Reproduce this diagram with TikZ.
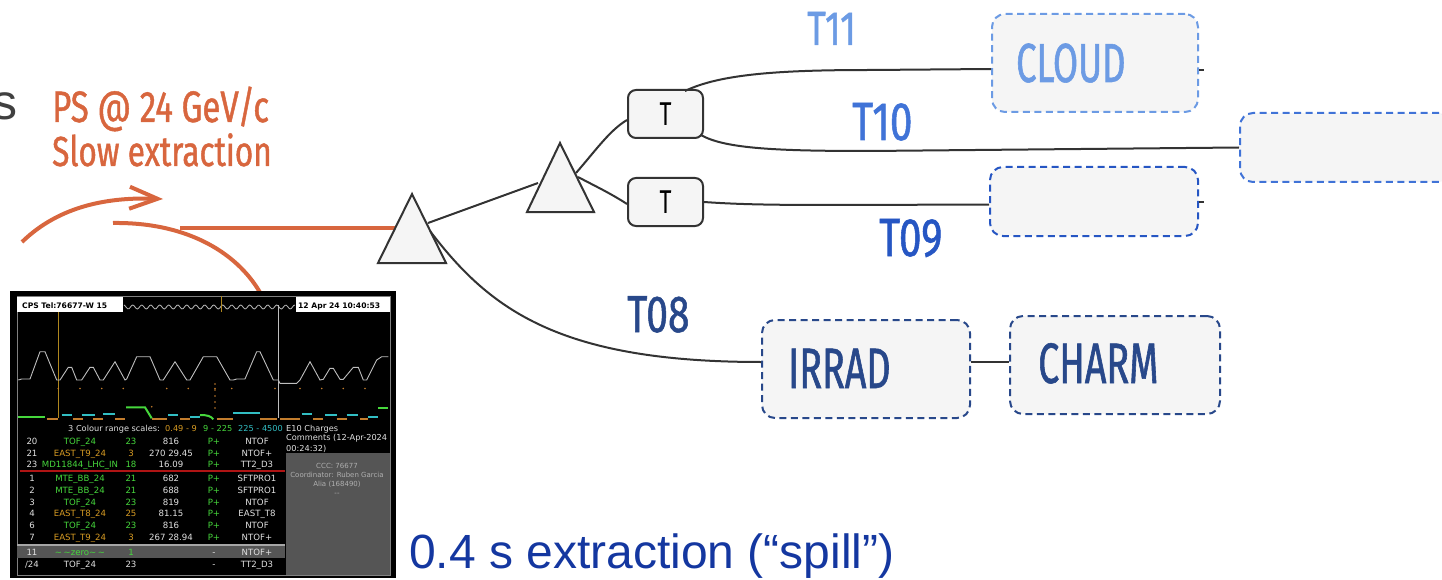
\documentclass[tikz,border=0pt]{standalone}
\usepackage{fontspec}
\setmainfont{Liberation Sans}
\newfontfamily\osw[FakeStretch=0.66,FakeBold=1.0]{Fira Sans}
\newfontfamily\oswt[FakeStretch=0.75,FakeBold=1.0]{Fira Sans}
\newfontfamily\oswl[FakeStretch=0.7]{Fira Sans}
\newfontfamily\scr{DejaVu Sans}
\usetikzlibrary{arrows.meta}
\definecolor{psorange}{RGB}{216,102,62}
\definecolor{darkline}{RGB}{51,51,51}
\definecolor{boxfill}{RGB}{245,245,245}
\definecolor{lightblue}{RGB}{108,155,228}
\definecolor{midblue}{RGB}{64,115,215}
\definecolor{blueT}{RGB}{38,86,195}
\definecolor{navy}{RGB}{40,72,138}
\definecolor{spillblue}{RGB}{20,55,160}
\definecolor{sgray}{RGB}{64,64,64}
\definecolor{scrgreen}{RGB}{70,215,60}
\definecolor{scrgold}{RGB}{215,155,35}
\definecolor{scrcyan}{RGB}{50,190,195}
\definecolor{scrwhite}{RGB}{225,225,225}
\definecolor{scrorange}{RGB}{195,125,45}
\definecolor{vgold}{RGB}{175,135,30}
\definecolor{wavegray}{RGB}{190,190,190}
\definecolor{panelgray}{RGB}{85,85,85}
\definecolor{paneltxt}{RGB}{175,175,175}
\definecolor{redline}{RGB}{175,20,20}
\newcommand\screenrow[9]{%
  \node[scrtxt,text=scrwhite] (n#1) at (32,#2) {#3};
  \node[scrtxt,text=#5] (m#1) at (80,#2) {#4};
  \node[scrtxt,text=#5] (c#1) at (131,#2) {#6};
  \node[scrtxt,text=scrwhite] (v#1) at (171,#2) {#7};
  \node[scrtxt,text=scrgreen] (p#1) at (214,#2) {#8};
  \node[scrtxt,text=scrwhite] (d#1) at (257,#2) {#9};}
\begin{document}
\begin{tikzpicture}[x=1pt,y=-1pt,
  conn/.style={draw=darkline,line width=2pt},
  tri/.style={draw=darkline,fill=boxfill,line width=2pt,line join=miter},
  tbox/.style={draw=darkline,fill=boxfill,line width=2pt,rounded corners=8pt,
    minimum width=75pt,minimum height=48pt,inner sep=0pt,
    font=\oswl\fontsize{33}{33}\selectfont},
  dbox/.style={fill=boxfill,line width=2pt,dash pattern=on 7pt off 4.5pt,
    rounded corners=13pt,inner sep=0pt},
  lbl/.style={anchor=base west,inner sep=0pt},
  orangeline/.style={draw=psorange,line width=4pt},
  scrtxt/.style={anchor=base,inner sep=0pt,font=\scr\fontsize{8.6}{10}\selectfont},
  smalltxt/.style={anchor=base west,inner sep=0pt,font=\scr\fontsize{8.2}{10}\selectfont},
  paneltext/.style={anchor=base,inner sep=0pt,text=paneltxt,font=\scr\fontsize{7}{8}\selectfont},
]
\useasboundingbox (0,0) rectangle (1442,580);

% left texts
\node[anchor=base east,inner sep=0pt,text=sgray,font=\fontsize{50}{50}\selectfont] (s) at (18,120) {s};
\node[lbl,text=psorange,font=\oswt\fontsize{44}{44}\selectfont] (ps) at (52,122) {PS @ 24 GeV/c};
\node[lbl,text=psorange,font=\oswt\fontsize{42}{42}\selectfont] (slow) at (52,166) {Slow extraction};

% orange arrow and beam
\coordinate (arrs) at (22,242);
\coordinate (arre) at (163,199);
\draw[orangeline,-{Straight Barb[length=28pt,width=22pt]}] (arrs) .. controls (60,205) and (110,197) .. (arre);
\coordinate (beams) at (113,223);
\coordinate (beamd) at (262,296);
\draw[orangeline] (beams) .. controls (190,222) and (240,255) .. (beamd);
\coordinate (beamh) at (180,228);
\coordinate (tri1in) at (400,228);
\draw[orangeline] (beamh) -- (tri1in);

% nodes: T boxes
\node[tbox] (T1) at (665.5,114) {T};
\node[tbox] (T2) at (665.5,202) {T};

% dashed boxes
\node[dbox,draw=lightblue,minimum width=206pt,minimum height=98pt] (cloud) at (1095,63) {};
\node[dbox,draw=midblue,minimum width=212pt,minimum height=69pt] (t10box) at (1346,147.5) {};
\node[dbox,draw=blueT,minimum width=208pt,minimum height=69pt] (t09box) at (1094,201.5) {};
\node[dbox,draw=navy,minimum width=208pt,minimum height=98pt] (irrad) at (866,369) {};
\node[dbox,draw=navy,minimum width=210pt,minimum height=98pt] (charm) at (1115,365) {};

% triangle anchor points
\coordinate (tri1a) at (428,223);
\coordinate (tri1b) at (430,231);
\coordinate (tri2a) at (538,183);
\coordinate (tri2b) at (576,173);
\coordinate (tri2c) at (578,177);
\coordinate (t1top) at (685,91);
\coordinate (t1bot) at (701,135);

% connectors
\draw[conn] (tri1a) -- (tri2a);
\draw[conn] (tri1b) .. controls (490,310) and (560,362) .. ([yshift=7pt]irrad.west);
\draw[conn] (tri2b) .. controls (596,150) and (610,130) .. ([yshift=-6pt]T1.west);
\draw[conn] (tri2c) .. controls (595,186) and (610,193) .. ([yshift=-2pt]T2.west);
\draw[conn] (t1top) .. controls (720,74) and (780,70) .. (870,70) -- ([yshift=-6pt]cloud.west);
\draw[conn] (t1bot) .. controls (725,149) and (780,151) .. (870,151) -- (t10box.west);
\draw[conn] (T2.east) .. controls (760,206) and (820,205) .. ([yshift=-3pt]t09box.west);
\draw[conn] ([yshift=7pt]irrad.east) -- ([yshift=3pt]charm.west);
\draw[conn] (cloud.east) ++(0,7) -- ++(5,0);
\draw[conn] (t09box.east) ++(0,1) -- ++(5,0);

% triangles
\draw[tri] (378,263) -- (412,194) -- (446,263) -- cycle;
\draw[tri] (527,212) -- (560,143) -- (594,212) -- cycle;

% labels
\node[lbl,text=lightblue,font=\oswt\fontsize{48}{48}\selectfont] (lt11) at (807,45) {T11};
\node[lbl,text=midblue,font=\oswt\fontsize{54}{54}\selectfont] (lt10) at (852,140) {T10};
\node[lbl,text=blueT,font=\oswt\fontsize{54}{54}\selectfont] (lt09) at (879,256) {T09};
\node[lbl,text=navy,font=\oswt\fontsize{52}{52}\selectfont] (lt08) at (627,332) {T08};
\node[lbl,text=lightblue,font=\osw\fontsize{55}{55}\selectfont] (lcloud) at (1016,82) {CLOUD};
\node[lbl,text=navy,font=\osw\fontsize{57}{57}\selectfont] (lirrad) at (788,388) {IRRAD};
\node[lbl,text=navy,font=\osw\fontsize{57}{57}\selectfont] (lcharm) at (1038,383) {CHARM};

% spill text
\node[lbl,text=spillblue,font=\fontsize{48}{48}\selectfont] (spill) at (409,568) {0.4 s extraction (“spill”)};

% ---------------- screenshot ----------------
\fill[black] (10,291) rectangle (396,578);
\draw[gray,line width=1pt] (17,296) rectangle (390,575);
% header boxes
\fill[white] (17,297) rectangle (123,312);
\fill[white] (296,297) rectangle (390,312);
\node[anchor=base west,inner sep=0pt,font=\scr\bfseries\fontsize{7.6}{9}\selectfont] (hl) at (22,308.5) {CPS Tel:76677-W\,\,15};
\node[anchor=base west,inner sep=0pt,font=\scr\bfseries\fontsize{7.6}{9}\selectfont] (hr) at (298,308.5) {12 Apr 24 10:40:53};
% top wave
\draw[wavegray,line width=0.8pt] plot[domain=124:295,samples=140,smooth] (\x,{307+2*sin(\x*40)});
% vertical lines
\draw[vgold,line width=1.2pt] (58.3,312) -- (58.3,418);
\draw[vgold,line width=1.2pt] (221.7,296) -- (221.7,312);
\draw[wavegray,line width=1.2pt] (278.3,305) -- (278.3,418);
% main waveform
\draw[wavegray,line width=0.9pt] plot coordinates {(18.3,380) (21.7,379) (30,379) (40,351.7) (45,351.7) (56.7,380) (60,380) (68.3,367.3) (71.7,367.3) (76.7,380) (81.7,380) (90,367.3) (93.3,367.3) (100,380) (103.3,380) (115,361.7) (125,380) (126.7,379) (136.7,356.7) (150,356.7) (160,380) (163.3,380) (175,361.7) (186.7,380) (190,380) (203.3,356.7) (216.7,356.7) (230,380) (233.3,380) (236.7,379) (245,379) (256.7,351.7) (260,351.7) (273.3,380) (278.3,380) (280,383.3) (296.7,383.3) (300,380) (310,361.7) (320,380) (323.3,379.3) (330,368.3) (333.3,368.3) (340,379.3) (343.3,379.3) (353.3,367.3) (358.3,367.3) (363.3,380) (366.7,380) (376.7,360) (381.7,356.7) (388.3,356.7)};
% orange dots
\foreach \xx in {58.3,80,101.7,123.3,166.7,188.3,215,231.7,275,300,321.7,343.3,365}
  \fill[scrorange] (\xx,388.5) circle (0.9);
\foreach \yy in {384,390,396,402,408}
  \fill[scrorange] (215,\yy) circle (0.8);
\fill[scrorange] (151.7,406.7) circle (0.9);
% bottom traces
\begin{scope}[line width=2pt]
\draw[scrgreen] (18.3,417.3) -- (45,417.3);
\draw[scrorange] (46.7,419.3) -- (58.3,419.3) (73.3,419.3) -- (83.3,419.3) (93.3,419.3) -- (103.3,419.3) (115,419.3) -- (125,419.3) (151.7,419.3) -- (166.7,419.3) (180,419.3) -- (190,419.3) (216.7,419.3) -- (233.3,419.3) (260,419.3) -- (276.7,419.3) (280,419.3) -- (300,419.3) (313.3,419.3) -- (323.3,419.3) (336.7,419.3) -- (346.7,419.3) (360,419.3) -- (368.3,419.3);
\draw[scrcyan] (61.7,415) -- (71.7,415) (81.7,415) -- (95,415) (103.3,414) -- (115,414) (168.3,415) -- (178.3,415) (190,417.3) -- (200,417.3) (233.3,413.3) -- (260,413.3) (301.7,414) -- (311.7,414) (325,415) -- (336.7,415) (346.7,415) -- (358.3,415) (368.3,417.3) -- (378.3,417.3);
\draw[scrgreen] (126,407.3) -- (145,407.3) -- (151.7,418.3);
\draw[scrgreen] (200,415) .. controls (207,415) and (211,416) .. (213.3,419.3);
\draw[scrgreen] (378.3,407.7) -- (388.3,407.7);
\end{scope}
% scale line
\node[smalltxt,text=scrwhite] (sc1) at (68,431) {3 Colour range scales:};
\node[smalltxt,text=scrgold] (sc2) at (165,431) {0.49 - 9};
\node[smalltxt,text=scrgreen] (sc3) at (203,431) {9 - 225};
\node[smalltxt,text=scrcyan] (sc4) at (238,431) {225 - 4500};
\node[smalltxt,text=scrwhite] (sc5) at (286,431) {E10 Charges};
\node[smalltxt,text=scrwhite] (cm1) at (286,440) {Comments (12-Apr-2024};
\node[smalltxt,text=scrwhite] (cm2) at (286,451) {00:24:32)};
% right panel
\fill[panelgray] (286,453) rectangle (390,575);
\node[paneltext] (pa) at (337,468) {CCC: 76677};
\node[paneltext] (pb) at (337,477) {Coordinator: Ruben Garcia};
\node[paneltext] (pc) at (337,486) {Alia (168490)};
\node[paneltext] (pd) at (337,495) {--};
% red line
\draw[redline,line width=1.5pt] (20,471) -- (285,471);
% gray bar
\fill[panelgray] (17,545) rectangle (285,558);
\draw[gray!70,line width=2pt] (17,545) -- (285,545);
% rows
\screenrow{a}{444}{20}{TOF\_24}{scrgreen}{23}{816}{P+}{NTOF}
\screenrow{b}{456}{21}{EAST\_T9\_24}{scrgold}{3}{270 29.45}{P+}{NTOF+}
\screenrow{c}{467}{23}{MD11844\_LHC\_IN}{scrgreen}{18}{16.09}{P+}{TT2\_D3}
\screenrow{d}{481}{1}{MTE\_BB\_24}{scrgreen}{21}{682}{P+}{SFTPRO1}
\screenrow{e}{493}{2}{MTE\_BB\_24}{scrgreen}{21}{688}{P+}{SFTPRO1}
\screenrow{f}{505}{3}{TOF\_24}{scrgreen}{23}{819}{P+}{NTOF}
\screenrow{g}{516}{4}{EAST\_T8\_24}{scrgold}{25}{81.15}{P+}{EAST\_T8}
\screenrow{h}{528}{6}{TOF\_24}{scrgreen}{23}{816}{P+}{NTOF}
\screenrow{i}{540}{7}{EAST\_T9\_24}{scrgold}{3}{267 28.94}{P+}{NTOF+}
\screenrow{j}{555}{11}{\textasciitilde\,\textasciitilde zero\textasciitilde\,\textasciitilde}{scrgreen}{1}{}{\textcolor{scrwhite}{-}}{NTOF+}
\screenrow{k}{567}{/24}{TOF\_24}{scrwhite}{23}{}{\textcolor{scrwhite}{-}}{TT2\_D3}
\end{tikzpicture}
\end{document}
